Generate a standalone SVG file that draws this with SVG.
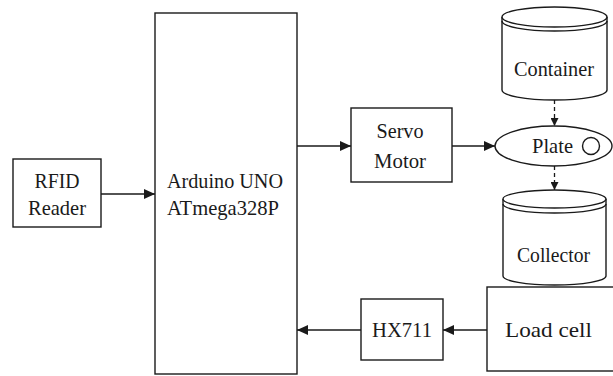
<svg xmlns="http://www.w3.org/2000/svg" width="613" height="376" viewBox="0 0 613 376">
<style>
.b{fill:#fff;stroke:#1a1a1a;stroke-width:1.4}
.c{fill:none;stroke:#1a1a1a;stroke-width:1.4}
.t{font-family:"Liberation Serif","Times New Roman",serif;font-size:22px;fill:#1a1a1a;text-anchor:middle}
.l{fill:none;stroke:#1a1a1a;stroke-width:1.4}
.d{fill:none;stroke:#1a1a1a;stroke-width:1.3;stroke-dasharray:4,3}
</style>
<defs>
<marker id="ah" markerUnits="userSpaceOnUse" markerWidth="12" markerHeight="10" refX="11" refY="5" orient="auto">
<path d="M0,0 L11,5 L0,10 Z" fill="#1a1a1a"/>
</marker>
<marker id="sh" markerUnits="userSpaceOnUse" markerWidth="9" markerHeight="8" refX="8" refY="4" orient="auto">
<path d="M0,0 L8,4 L0,8 Z" fill="#1a1a1a"/>
</marker>
</defs>
<rect width="613" height="376" fill="#fff"/>
<g id="connectors">
<line class="l" x1="101" y1="194" x2="155" y2="194" marker-end="url(#ah)"/>
<line class="l" x1="297" y1="146" x2="351" y2="146" marker-end="url(#ah)"/>
<line class="l" x1="452" y1="146" x2="495" y2="146" marker-end="url(#ah)"/>
<line class="d" x1="554.5" y1="100" x2="554.5" y2="126" marker-end="url(#sh)"/>
<line class="d" x1="554.5" y1="166" x2="554.5" y2="190" marker-end="url(#sh)"/>
<line class="l" x1="487" y1="330" x2="443" y2="330" marker-end="url(#ah)"/>
<line class="l" x1="361" y1="330" x2="297" y2="330" marker-end="url(#ah)"/>
</g>
<g id="rfid">
<rect class="b" x="13" y="159" width="88" height="68"/>
<text class="t" x="57" y="188" textLength="45" lengthAdjust="spacingAndGlyphs">RFID</text>
<text class="t" x="57" y="215" textLength="58" lengthAdjust="spacingAndGlyphs">Reader</text>
</g>
<g id="arduino">
<rect class="b" x="155" y="13" width="142" height="361"/>
<text class="t" x="225" y="188" textLength="116" lengthAdjust="spacingAndGlyphs">Arduino UNO</text>
<text class="t" x="223" y="215" textLength="112" lengthAdjust="spacingAndGlyphs">ATmega328P</text>
</g>
<g id="servo">
<rect class="b" x="351" y="108" width="101" height="74"/>
<text class="t" x="400" y="138" textLength="47" lengthAdjust="spacingAndGlyphs">Servo</text>
<text class="t" x="400" y="168" textLength="52" lengthAdjust="spacingAndGlyphs">Motor</text>
</g>
<g id="container">
<path class="b" d="M502,17 L502,90 A52.5,10 0 0 0 607,90 L607,17"/>
<ellipse class="b" cx="554.5" cy="17" rx="52.5" ry="10"/>
<path class="c" d="M502,21 A52.5,10 0 0 0 607,21"/>
<text class="t" x="554" y="76" textLength="80" lengthAdjust="spacingAndGlyphs">Container</text>
</g>
<g id="plate">
<ellipse class="b" cx="553.5" cy="146" rx="58.5" ry="20"/>
<text class="t" x="552.5" y="153" textLength="41" lengthAdjust="spacingAndGlyphs">Plate</text>
<circle class="c" cx="591" cy="146" r="8.5"/>
</g>
<g id="collector">
<path class="b" d="M503,199 L503,276 A51.5,9 0 0 0 606,276 L606,199"/>
<ellipse class="b" cx="554.5" cy="199" rx="51.5" ry="9"/>
<path class="c" d="M503,204 A51.5,9 0 0 0 606,204"/>
<text class="t" x="553.5" y="262" textLength="73" lengthAdjust="spacingAndGlyphs">Collector</text>
</g>
<g id="loadcell">
<rect class="b" x="487" y="287" width="140" height="84"/>
<text class="t" x="548.5" y="337" textLength="87" lengthAdjust="spacingAndGlyphs">Load cell</text>
</g>
<g id="hx711">
<rect class="b" x="361" y="299" width="82" height="61"/>
<text class="t" x="402" y="337" textLength="60" lengthAdjust="spacingAndGlyphs">HX711</text>
</g>
</svg>
